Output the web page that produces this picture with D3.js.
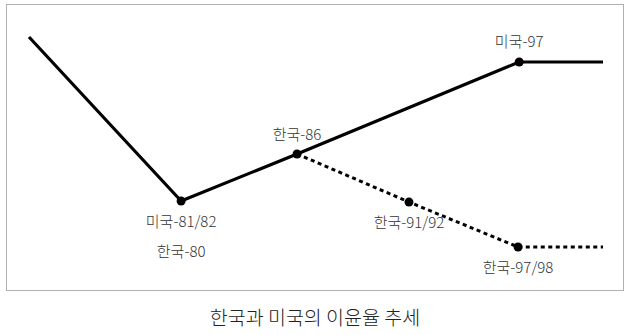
<!DOCTYPE html>
<html>
<head>
<meta charset="utf-8">
<script src="https://cdn.jsdelivr.net/npm/d3@7"></script>
<style>
  body { margin: 0; background: #fff; }
  text { font-family: "Noto Sans CJK KR", "Noto Sans", sans-serif; }
</style>
</head>
<body>
<div id="chart"></div>
<script>
// schematic positions (no axes in the original)
const usX = [0, 26.5, 46.7, 85.4, 100];
const usY = [100, 21.9, 44.3, 88.1, 88.1];
const krX = [46.7, 66.2, 85.2, 100];
const krY = [44.3, 21.4, 0, 0];

// labelled points
const dotX = [26.5, 46.7, 85.4, 66.2, 85.2];
const dotY = [21.9, 44.3, 88.1, 21.4, 0];
const labelX = [26.5, 26.5, 46.7, 85.4, 66.2, 85.2];
const labelY = [21.9, 21.9, 44.3, 88.1, 21.4, 0];
const labelText = ['미국-81/82', '한국-80', '한국-86', '미국-97', '한국-91/92', '한국-97/98'];
const labelDy = [26, 56, -14, -15, 26, 26];

const title = '한국과 미국의 이윤율 추세';

const width = 629, height = 335;
const svg = d3.select('#chart').append('svg')
  .attr('width', width)
  .attr('height', height);

// frame
svg.append('rect')
  .attr('x', 6.5).attr('y', 4.5)
  .attr('width', 617).attr('height', 286)
  .attr('fill', 'none')
  .attr('stroke', '#b0b0b0')
  .attr('stroke-width', 1);

const x = d3.scaleLinear().domain([0, 100]).range([29, 603]);
const y = d3.scaleLinear().domain([0, 100]).range([247, 37]);

const line = d3.line()
  .x(d => x(d[0]))
  .y(d => y(d[1]));

svg.append('path')
  .datum(d3.zip(krX, krY))
  .attr('d', line)
  .attr('fill', 'none')
  .attr('stroke', '#000')
  .attr('stroke-width', 3)
  .attr('stroke-dasharray', '4,3.5');

svg.append('path')
  .datum(d3.zip(usX, usY))
  .attr('d', line)
  .attr('fill', 'none')
  .attr('stroke', '#000')
  .attr('stroke-width', 3.2)
  .attr('stroke-linejoin', 'round');

svg.selectAll('.dot')
  .data(d3.zip(dotX, dotY))
  .enter()
  .append('circle')
  .attr('class', 'dot')
  .attr('cx', d => x(d[0]))
  .attr('cy', d => y(d[1]))
  .attr('r', 4.5)
  .attr('fill', '#000');

svg.selectAll('.label')
  .data(labelText)
  .enter()
  .append('text')
  .attr('class', 'label')
  .attr('x', (d, i) => x(labelX[i]))
  .attr('y', (d, i) => y(labelY[i]) + labelDy[i])
  .attr('text-anchor', 'middle')
  .attr('font-size', '15px')
  .attr('font-weight', 300)
  .attr('fill', '#333')
  .text(d => d);

svg.append('text')
  .attr('x', 315)
  .attr('y', 325)
  .attr('text-anchor', 'middle')
  .attr('font-size', '19.5px')
  .attr('font-weight', 300)
  .attr('fill', '#222')
  .text(title);
</script>
</body>
</html>
